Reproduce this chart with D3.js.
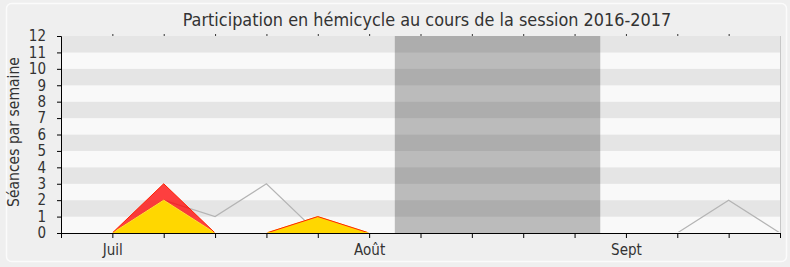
<!DOCTYPE html>
<html><head><meta charset="utf-8">
<script src="https://cdn.jsdelivr.net/npm/d3@7"></script>
<style>html,body{margin:0;padding:0;background:#efefef;}svg{display:block;}</style>
</head><body>
<script>
// ---- data ----
const weekIndex = [0,1,2,3,4,5,6,7,8,9,10,11,12,13,14];
const xTickLabels = {1:"Juil", 6:"Août", 11:"Sept"};
const yTicks = [0,1,2,3,4,5,6,7,8,9,10,11,12];
// séances (total, red), interventions/présence (yellow), médiane (gray)
const seriesRed    = [null,0,3,0,0,1,0,null,null,null,null,null,0,0,0];
const seriesYellow = [null,0,2,0,0,1,0,null,null,null,null,null,0,0,0];
const seriesGray   = [null,0,2,1,3,0,0,null,null,null,null,null,0,2,0];
const vacation = [6.5, 10.5];
const title = "Participation en hémicycle au cours de la session 2016-2017";
const yLabel = "Séances par semaine";

const W = 790, H = 267;
const L = 61, R = 780, T = 36, B = 233;
const svg = d3.select("body").append("svg").attr("width", W).attr("height", H);
const font = "DejaVu Sans Condensed, DejaVu Sans, sans-serif";

svg.append("rect").attr("x",0).attr("y",0).attr("width",W).attr("height",H).attr("fill","#efefef");
svg.append("rect").attr("x",6.5).attr("y",3.5).attr("width",780).attr("height",258).attr("rx",5)
  .attr("fill","#efefef").attr("stroke","#fbfbfb").attr("stroke-width",1.5);

const x = d3.scaleLinear().domain([0,14]).range([L,R]);
const y = d3.scaleLinear().domain([0,12]).range([B,T]);

svg.append("defs").append("clipPath").attr("id","lineclip")
  .append("rect").attr("x",L).attr("y",T-2).attr("width",R-L).attr("height",B-T+1);

// stripes
svg.append("g").selectAll("rect").data(d3.range(12)).join("rect")
  .attr("x", L).attr("width", R-L)
  .attr("y", d => y(d+1)).attr("height", d => y(d)-y(d+1))
  .attr("fill", d => d%2 ? "#e5e5e5" : "#f9f9f9");

// vacation band
svg.append("rect").attr("x", x(vacation[0])).attr("width", x(vacation[1])-x(vacation[0]))
  .attr("y", y(12)).attr("height", y(0)-y(12)).attr("fill","#2a2a2a").attr("opacity",0.3);

// right border
svg.append("line").attr("x1",R+0.5).attr("x2",R+0.5).attr("y1",T).attr("y2",B).attr("stroke","#c8c8c8");

const def = d => d !== null;
const area = d3.area().defined((d)=>def(d)).x((d,i)=>x(weekIndex[i])).y0(y(0)).y1(d=>y(d));
const line = d3.line().defined((d)=>def(d)).x((d,i)=>x(weekIndex[i])).y(d=>y(d));

const gl = svg.append("g").attr("clip-path","url(#lineclip)");
// gray median line
gl.append("path").attr("d", line(seriesGray)).attr("fill","none").attr("stroke","#b4b4b4").attr("stroke-width",1.2);
// red area
svg.append("path").attr("d", area(seriesRed)).attr("fill","#ff0000").attr("fill-opacity",0.75);
// yellow area
svg.append("path").attr("d", area(seriesYellow)).attr("fill","#ffd700");
const gl2 = svg.append("g").attr("clip-path","url(#lineclip)");
gl2.append("path").attr("d", line(seriesYellow)).attr("fill","none").attr("stroke","#ffe033").attr("stroke-width",1);
gl2.append("path").attr("d", line(seriesRed)).attr("fill","none").attr("stroke","#ff2200").attr("stroke-width",1);

// axes (on top of series)
const gx = svg.append("g").attr("transform",`translate(0,${B})`)
  .call(d3.axisBottom(x).tickValues(weekIndex).tickSize(5).tickFormat(d => xTickLabels[d] || ""));
gx.select(".domain").attr("stroke","#000");
gx.selectAll("text").attr("font-family",font).attr("font-size",15).attr("fill","#333").attr("dy","0.9em");

const gt = svg.append("g").attr("transform",`translate(0,${T})`)
  .call(d3.axisTop(x).tickValues(weekIndex.slice(1,14)).tickSize(2).tickFormat(""));
gt.select(".domain").remove();
gt.selectAll("line").attr("stroke","#333");

const gy = svg.append("g").attr("transform",`translate(${L},0)`)
  .call(d3.axisLeft(y).tickValues(yTicks).tickSize(4).tickPadding(11).tickFormat(d3.format("d")));
gy.select(".domain").attr("stroke","#000");
gy.selectAll("text").attr("font-family",font).attr("font-size",15).attr("fill","#333");

// title
const t = svg.append("text").attr("x", 427).attr("y", 26).attr("text-anchor","middle")
  .attr("font-family",font).attr("font-size",17).attr("fill","#333").text(title);
const tw = t.node().getComputedTextLength();
t.attr("font-size", 17*489/tw);

const yl = svg.append("text").attr("transform","translate(19,132) rotate(-90)").attr("text-anchor","middle")
  .attr("font-family",font).attr("font-size",14).attr("fill","#333").text(yLabel);
const yw = yl.node().getComputedTextLength();
yl.attr("font-size", 14*150/yw);
</script>
</body></html>
